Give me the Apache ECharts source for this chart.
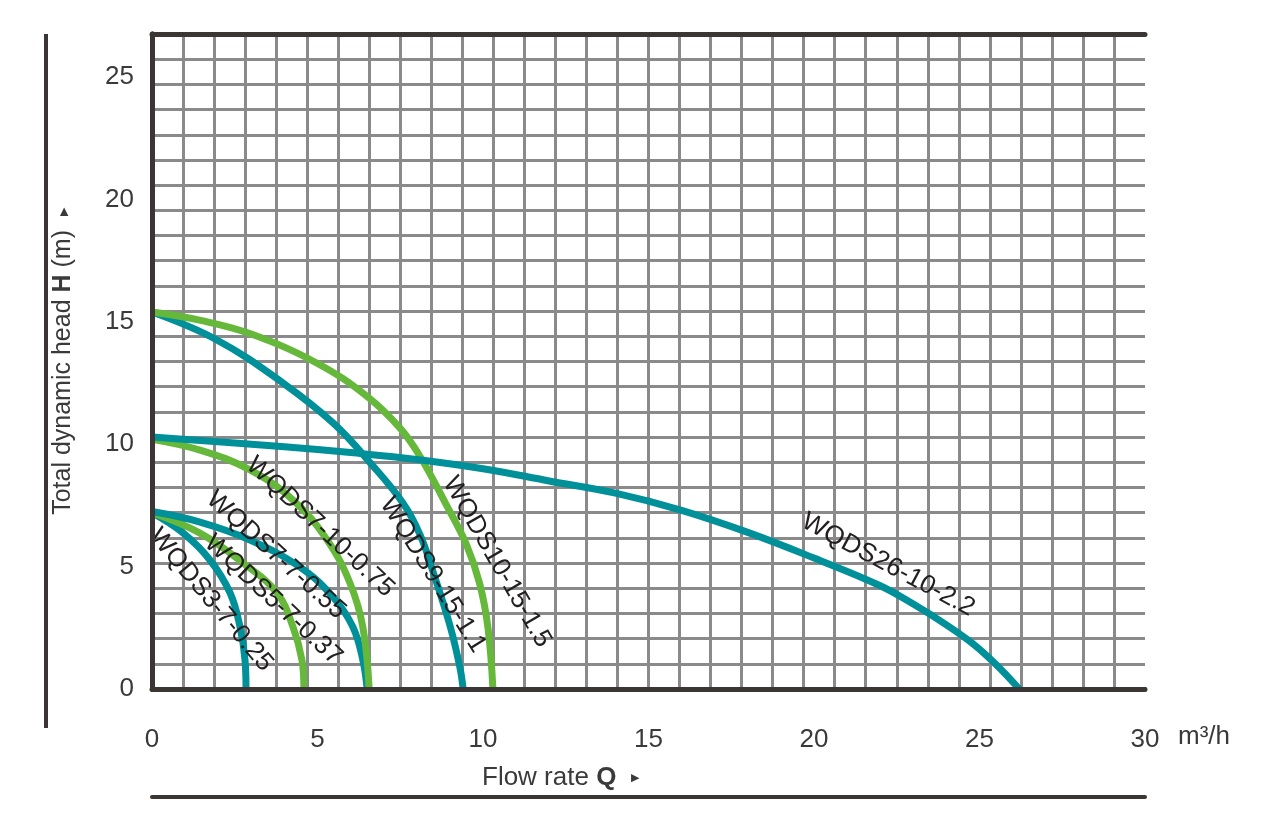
<!DOCTYPE html>
<html>
<head>
<meta charset="utf-8">
<script src="https://cdn.jsdelivr.net/npm/echarts@6/dist/echarts.min.js"></script>
<style>
  html, body { margin: 0; padding: 0; background: #fff; }
  #chart { width: 1275px; height: 819px; }
</style>
</head>
<body>
<div id="chart"></div>
<script>
// pump curves, flow Q (m3/h) vs head H (m)
var models = ['WQDS3-7-0.25', 'WQDS5-7-0.37', 'WQDS7-7-0.55', 'WQDS7-10-0.75',
              'WQDS9-15-1.1', 'WQDS10-15-1.5', 'WQDS26-10-2.2'];

var q_3_7   = [0, 0.94, 1.75, 2.36, 2.66, 2.81, 2.84];
var h_3_7   = [7.2, 6.37, 5.27, 3.92, 2.53, 1.18, 0];

var q_5_7   = [0, 1.45, 2.75, 3.78, 4.26, 4.53, 4.59];
var h_5_7   = [7.2, 6.37, 5.15, 3.92, 2.53, 1.18, 0];

var q_7_7   = [0, 1.45, 2.96, 4.47, 5.47, 6.07, 6.37, 6.5];
var h_7_7   = [7.25, 6.82, 6.09, 4.98, 3.76, 2.53, 1.18, 0];

var q_7_10  = [0, 1.45, 2.96, 4.26, 5.29, 5.98, 6.37, 6.56];
var h_7_10  = [10.2, 9.76, 8.95, 7.72, 6.09, 4.33, 2.53, 0];

var q_9_15  = [0, 1.96, 3.96, 5.47, 6.6, 7.58, 8.1, 8.5, 9.0, 9.3, 9.4];
var h_9_15  = [15.4, 14.26, 12.5, 10.87, 9.23, 7.6, 6.3, 4.75, 2.6, 0.9, 0];

var q_10_15 = [0, 1.5, 3, 5, 6.5, 7.5, 8.1, 8.9, 9.5, 9.9, 10.15, 10.3];
var h_10_15 = [15.4, 15.05, 14.5, 13.3, 11.95, 10.65, 9.5, 7.5, 5.9, 4.3, 2.5, 0];

var q_26_10 = [0, 2, 4, 6, 8, 10, 12, 14, 16, 18, 20, 22, 23, 24, 24.8, 25.5, 26.2];
var h_26_10 = [10.3, 10.1, 9.9, 9.66, 9.38, 9.0, 8.5, 8.0, 7.3, 6.4, 5.35, 4.22, 3.47, 2.62, 1.85, 1.0, 0];

var xTicks = [0, 5, 10, 15, 20, 25, 30];
var yTicks = [0, 5, 10, 15, 20, 25];

var TEAL = '#00909a', GREEN = '#66b83a', FRAME = '#3b3536', GRID = '#8a8a8a';

// where each model name sits (Q, H, angle)
var labelSpots = [
  [1.78, 3.64, -50], [3.66, 3.64, -43], [3.75, 5.47, -42], [5.08, 6.62, -43],
  [8.49, 4.66, -58], [10.42, 5.19, -60], [22.24, 5.07, -28]
];

function pairs(q, h) {
  return q.map(function (v, i) { return [v, h[i]]; });
}

var curves = [
  [q_3_7, h_3_7, TEAL], [q_5_7, h_5_7, GREEN], [q_7_7, h_7_7, TEAL],
  [q_7_10, h_7_10, GREEN], [q_9_15, h_9_15, TEAL], [q_10_15, h_10_15, GREEN],
  [q_26_10, h_26_10, TEAL]
];

var series = curves.map(function (c, i) {
  return {
    name: models[i], type: 'line', smooth: 0.4, symbol: 'none',
    xAxisIndex: 0, yAxisIndex: 0, z: 3,
    lineStyle: { color: c[2], width: 7 },
    data: pairs(c[0], c[1])
  };
});

series.push({
  type: 'scatter', symbolSize: 0, xAxisIndex: 0, yAxisIndex: 0, z: 4,
  silent: true,
  data: models.map(function (m, i) {
    return {
      name: m, value: [labelSpots[i][0], labelSpots[i][1]],
      label: { rotate: labelSpots[i][2] }
    };
  }),
  label: {
    show: true, position: 'inside', formatter: '{b}',
    color: '#231f20', fontSize: 26, fontFamily: 'Liberation Sans',
    textBorderWidth: 0, opacity: 1
  }
});

var fontF = 'Liberation Sans';
var frameLine = { show: true, lineStyle: { color: FRAME, width: 5 } };
var nothing = { axisLabel: { show: false }, axisTick: { show: false } };

var option = {
  backgroundColor: '#fff',
  animation: false,
  grid: { left: 152, right: 130, top: 34, bottom: 130 },
  xAxis: [
    {
      type: 'value', min: 0, max: 30, interval: 5, position: 'bottom', offset: 27,
      axisLine: { show: true, lineStyle: { color: FRAME, width: 4 } },
      axisTick: { show: false }, splitLine: { show: false },
      axisLabel: {
        margin: 11, fontSize: 26, color: '#3a3a3a', fontFamily: fontF,
        formatter: function (v) { return xTicks.indexOf(v) >= 0 ? v : ''; }
      }
    },
    Object.assign({
      type: 'value', min: 0, max: 32, interval: 1, axisLine: { show: false },
      splitLine: { show: true, showMinLine: false, showMaxLine: false,
                   lineStyle: { color: GRID, width: 3 } }
    }, nothing),
    Object.assign({ type: 'value', min: 0, max: 30, position: 'bottom', offset: 0, z: 5,
      axisLine: frameLine, splitLine: { show: false } }, nothing),
    Object.assign({ type: 'value', min: 0, max: 30, position: 'top', z: 5,
      axisLine: frameLine, splitLine: { show: false } }, nothing),
    Object.assign({ type: 'value', min: 0, max: 30, position: 'bottom', offset: 108,
      axisLine: { show: true, lineStyle: { color: FRAME, width: 4 } },
      splitLine: { show: false } }, nothing)
  ],
  yAxis: [
    {
      type: 'value', min: 0, max: 26.76, interval: 5, position: 'left', z: 5,
      axisLine: frameLine, axisTick: { show: false }, splitLine: { show: false },
      axisLabel: {
        margin: 18, fontSize: 26, color: '#3a3a3a', fontFamily: fontF,
        formatter: function (v) { return yTicks.indexOf(v) >= 0 ? v : ''; }
      },
      name: 'Total dynamic head {b|H} (m)  {t|▶}',
      nameLocation: 'middle', nameRotate: 90, nameGap: 76,
      nameTextStyle: {
        fontSize: 25, color: '#3a3a3a', fontFamily: fontF,
        rich: {
          b: { fontSize: 25, fontWeight: 'bold', color: '#3a3a3a', fontFamily: fontF },
          t: { fontSize: 11, color: '#3a3a3a' }
        }
      }
    },
    Object.assign({
      type: 'value', min: 0, max: 26, interval: 1, axisLine: { show: false },
      splitLine: { show: true, showMinLine: false, showMaxLine: false,
                   lineStyle: { color: GRID, width: 3 } }
    }, nothing),
    Object.assign({ type: 'value', min: 0, max: 26.76, position: 'right', z: 5,
      axisLine: frameLine, splitLine: { show: false } }, nothing)
  ],
  graphic: [
    { type: 'line', shape: { x1: 46, y1: 34, x2: 46, y2: 728 },
      style: { stroke: FRAME, lineWidth: 4 } },
    { type: 'text', left: 482, top: 765,
      style: { text: 'Flow rate {b|Q}  {t|▶}', fontSize: 26, fill: '#3a3a3a', fontFamily: fontF,
        rich: {
          b: { fontSize: 26, fontWeight: 'bold', fill: '#3a3a3a', fontFamily: fontF },
          t: { fontSize: 11, fill: '#3a3a3a' }
        } } },
    { type: 'text', left: 1178, top: 724,
      style: { text: 'm³/h', fontSize: 26, fill: '#3a3a3a', fontFamily: fontF } }
  ],
  series: series
};

var myChart = echarts.init(document.getElementById('chart'));
myChart.setOption(option);
</script>
</body>
</html>
